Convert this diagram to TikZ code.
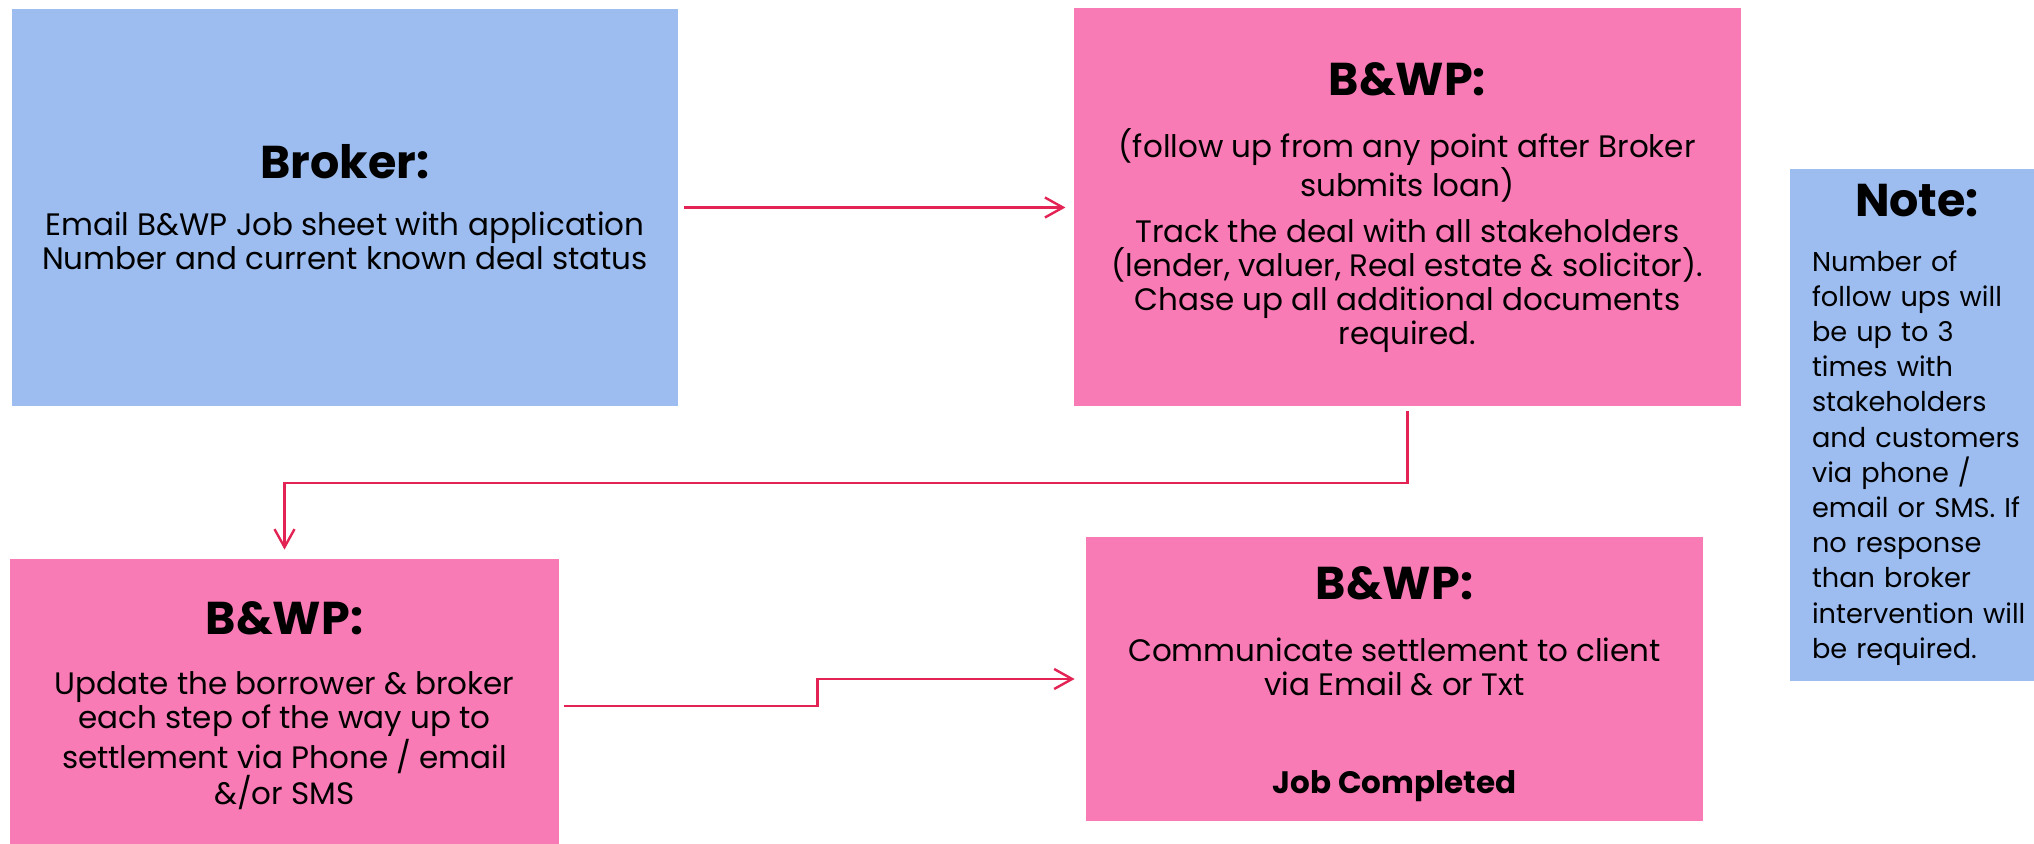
\documentclass[tikz,border=0pt]{standalone}
\usepackage{fontspec}
\setmainfont{Poppins}
\usepackage{tikz}
\usetikzlibrary{positioning,arrows.meta}

\definecolor{brokerblue}{RGB}{157,189,240}
\definecolor{bwppink}{RGB}{249,123,182}
\definecolor{linkred}{RGB}{226,35,84}
\newcommand{\boxhead}{\fontsize{23}{27}\selectfont\bfseries}

\begin{document}
\begin{tikzpicture}[
bluenode/.style={rectangle, fill=brokerblue, align=center, inner sep=0pt, font=\fontsize{15.5}{17}\selectfont},
pinknode/.style={rectangle, fill=bwppink, align=center, inner sep=0pt, font=\fontsize{15.5}{17}\selectfont},
notenode/.style={rectangle, fill=brokerblue, align=left, inner xsep=11pt, inner ysep=0pt, text width=140pt, font=\fontsize{13.6}{17.6}\selectfont},
arrowline/.style={draw=linkred, line width=1.2pt, -{Straight Barb[length=9pt,width=10pt]}},
]
\path[use as bounding box, fill=white] (0,0) rectangle (1017pt,-422pt);

%Nodes
\node[bluenode, minimum width=333pt, minimum height=198.5pt] (broker) at (172.5pt,-103.75pt)
  {{\boxhead Broker:}\\[11.5pt]
   Email B\&WP Job sheet with application\\
   Number and current known deal status};
\node[pinknode, minimum width=333.5pt, minimum height=199pt] (track) [right=197.5pt of broker]
  {{\boxhead B\&WP:}\\[14pt]
   (follow up from any point after Broker\\
   submits loan)\\[6pt]
   Track the deal with all stakeholders\\
   (lender, valuer, Real estate \& solicitor).\\
   Chase up all additional documents\\
   required.};
\node[pinknode, minimum width=274.5pt, minimum height=147pt] (update) at (142.25pt,-353pt)
  {{\boxhead B\&WP:}\\[13pt]
   Update the borrower \& broker\\
   each step of the way up to\\
   settlement via Phone / email\\
   \&/or SMS};
\node[pinknode, minimum width=308.5pt, minimum height=142pt] (settle) at (697.25pt,-339.5pt)
  {{\boxhead\rule{0pt}{22pt}B\&WP:}\\[14pt]
   Communicate settlement to client\\
   via Email \& or Txt\\[32pt]
   \textbf{Job Completed}};
\node[notenode, minimum height=256pt] (note) at (976pt,-212.5pt)
  {\makebox[105pt]{\boxhead Note:}\\[9.5pt]
   Number of\\ follow ups will\\ be up to 3\\ times with\\ stakeholders\\
   and customers\\ via phone /\\ email or SMS. If\\ no response\\
   than broker\\ intervention will\\ be required.};

%Lines
\draw[arrowline, shorten <=3pt, shorten >=4pt] (broker.east) -- (broker.east -| track.west);
\draw[arrowline, shorten <=2pt, shorten >=4.5pt] (track.south) -- ++(0,-38pt) -| (update.north);
\draw[arrowline, shorten <=2.5pt, shorten >=5.5pt] (update.east) -- ++(129pt,0) |- (settle.west);

\end{tikzpicture}
\end{document}
